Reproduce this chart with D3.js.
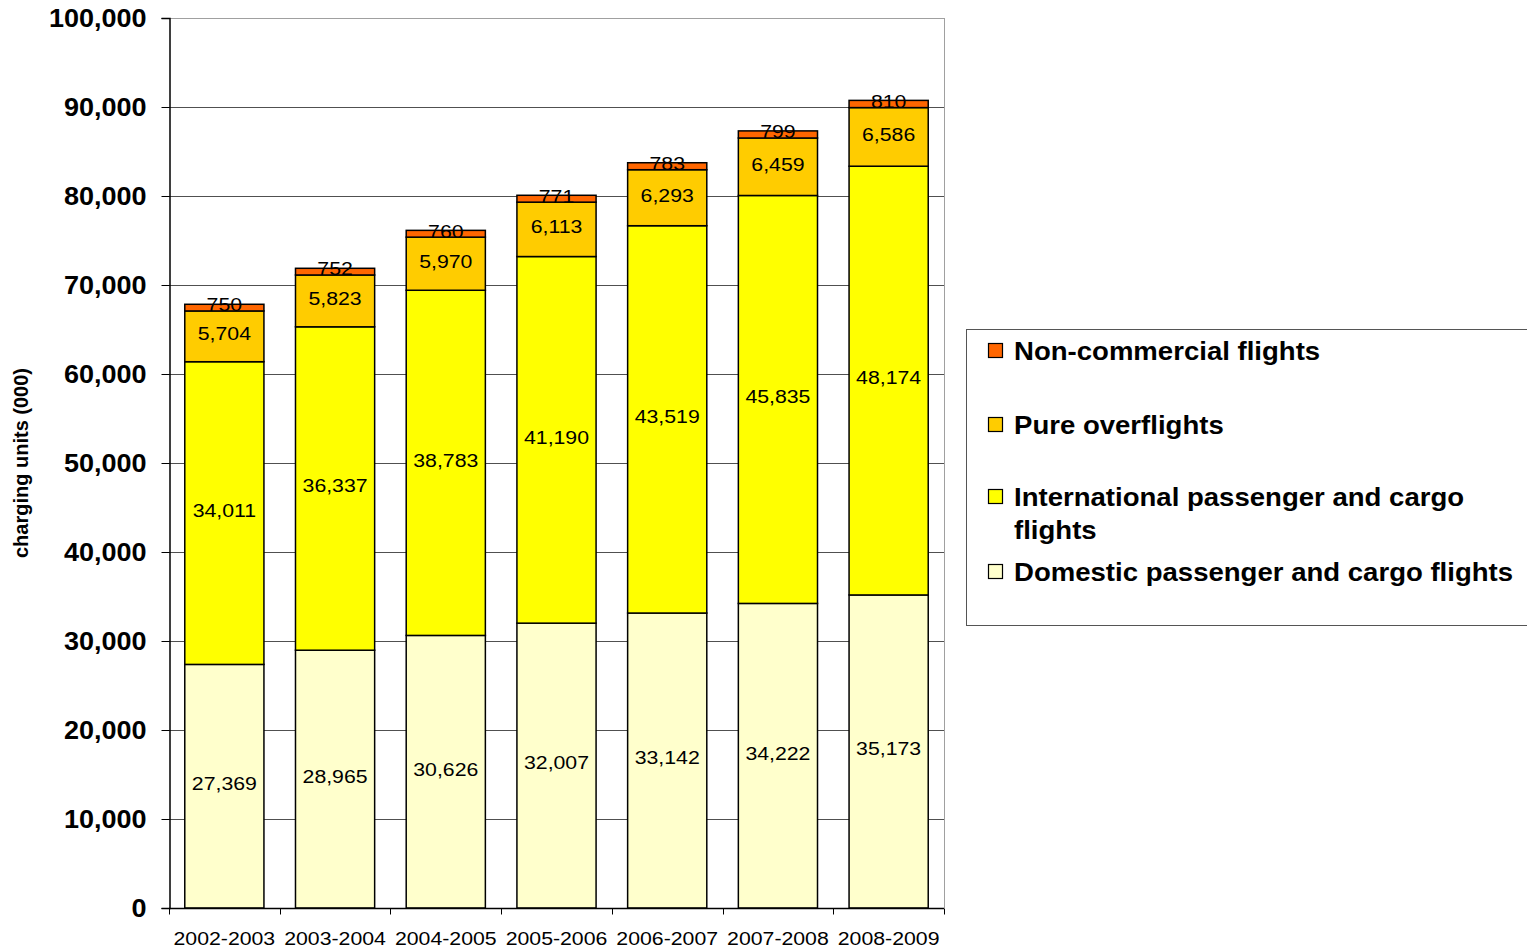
<!DOCTYPE html>
<html>
<head>
<meta charset="utf-8">
<script src="https://cdn.jsdelivr.net/npm/d3@7"></script>
<style>
  html, body { margin: 0; padding: 0; background: #fff; }
  svg { display: block; font-family: "Liberation Sans", Arial, sans-serif; }
</style>
</head>
<body>
<svg id="chart" width="1527" height="948"></svg>
<script>
// Charging units (thousands) by financial year
const years = ["2002-2003", "2003-2004", "2004-2005", "2005-2006", "2006-2007", "2007-2008", "2008-2009"];
const domestic      = [27369, 28965, 30626, 32007, 33142, 34222, 35173];
const international = [34011, 36337, 38783, 41190, 43519, 45835, 48174];
const overflights   = [5704, 5823, 5970, 6113, 6293, 6459, 6586];
const nonCommercial = [750, 752, 760, 771, 783, 799, 810];
const yTicks = [0, 10000, 20000, 30000, 40000, 50000, 60000, 70000, 80000, 90000, 100000];

const seriesNames = ["Domestic passenger and cargo flights", "International passenger and cargo flights", "Pure overflights", "Non-commercial flights"];
const seriesColors = ["#FFFFCC", "#FFFF00", "#FFCC00", "#FF6600"];
const seriesValues = [domestic, international, overflights, nonCommercial];

const svg = d3.select("#chart");
const plot = { left: 169, right: 944, top: 18, bottom: 908 };

const x = d3.scaleBand().domain(years).range([plot.left, plot.right]).paddingInner(0.285).paddingOuter(0.1425);
const y = d3.scaleLinear().domain([0, 100000]).range([plot.bottom, plot.top]);

// gridlines
svg.append("g").selectAll("line").data(yTicks.filter(d => d > 0)).join("line")
  .attr("x1", plot.left).attr("x2", plot.right)
  .attr("y1", d => y(d) + 0.5).attr("y2", d => y(d) + 0.5)
  .attr("stroke", d => d === 100000 ? "#a0a0a0" : "#505050").attr("stroke-width", 1);

// right border of plot area
svg.append("line").attr("x1", plot.right + 0.5).attr("x2", plot.right + 0.5)
  .attr("y1", plot.top).attr("y2", plot.bottom).attr("stroke", "#a0a0a0");

// stacked data
const rows = years.map((yr, i) => {
  const r = { year: yr };
  seriesNames.forEach((n, k) => r[n] = seriesValues[k][i]);
  return r;
});
const stack = d3.stack().keys(seriesNames)(rows);

const layers = svg.append("g").selectAll("g").data(stack).join("g")
  .attr("fill", (d, k) => seriesColors[k]);

layers.selectAll("rect").data(d => d).join("rect")
  .attr("x", d => x(d.data.year))
  .attr("width", x.bandwidth())
  .attr("y", d => y(d[1]))
  .attr("height", d => y(d[0]) - y(d[1]))
  .attr("stroke", "#000").attr("stroke-width", 1.5);

// value labels centred in each segment (slightly wide lettering)
const fmt = d3.format(",");
const labels = svg.append("g").attr("font-size", 19).attr("text-anchor", "middle").attr("fill", "#000");
stack.forEach((layer, k) => {
  layer.forEach(d => {
    const cx = x(d.data.year) + x.bandwidth() / 2;
    const cy = (y(d[0]) + y(d[1])) / 2;
    labels.append("text")
      .attr("transform", `translate(${cx},${cy}) scale(1.12,1)`)
      .attr("dy", "0.2em")
      .text(fmt(d[1] - d[0]));
  });
});

// y axis
const yAxis = svg.append("g").attr("transform", `translate(${plot.left + 0.5},0)`)
  .call(d3.axisLeft(y).tickValues(yTicks).tickFormat(fmt).tickSize(8));
yAxis.select(".domain").attr("stroke", "#000").attr("stroke-width", 1.5);
yAxis.selectAll(".tick line").attr("stroke", "#000");
yAxis.selectAll("text").attr("x", 0).attr("transform", "translate(-23,0) scale(1.08,1)")
  .attr("font-size", 25).attr("font-weight", "bold")
  .attr("font-family", "Liberation Sans, Arial, sans-serif").attr("fill", "#000");

// x axis with boundary ticks between categories
const xg = svg.append("g").attr("transform", `translate(0,${plot.bottom + 0.5})`);
xg.append("line").attr("x1", plot.left).attr("x2", plot.right).attr("stroke", "#000").attr("stroke-width", 1.5);
d3.range(years.length + 1).forEach(i => {
  const xx = Math.round(plot.left + i * (plot.right - plot.left) / years.length) + 0.5;
  xg.append("line").attr("x1", xx).attr("x2", xx).attr("y1", 0).attr("y2", 6).attr("stroke", "#000");
});
xg.selectAll("text.cat").data(years).join("text").attr("class", "cat")
  .attr("transform", d => `translate(${x(d) + x.bandwidth() / 2},36) scale(1.12,1)`)
  .attr("text-anchor", "middle").attr("font-size", 19).attr("fill", "#000").text(d => d);

// y axis title
svg.append("text").attr("transform", "translate(28,463) rotate(-90)")
  .attr("text-anchor", "middle").attr("font-size", 20).attr("font-weight", "bold").text("charging units (000)");

// legend
const lg = svg.append("g");
lg.append("rect").attr("x", 966.5).attr("y", 329.5).attr("width", 600).attr("height", 296)
  .attr("fill", "#fff").attr("stroke", "#555").attr("stroke-width", 1);
const legendItems = [
  { k: 3, lines: ["Non-commercial flights"], y: 351 },
  { k: 2, lines: ["Pure overflights"], y: 425 },
  { k: 1, lines: ["International passenger and cargo", "flights"], y: 497 },
  { k: 0, lines: ["Domestic passenger and cargo flights"], y: 572 }
];
legendItems.forEach(it => {
  lg.append("rect").attr("x", 988.5).attr("y", it.y - 7.5).attr("width", 14).attr("height", 14)
    .attr("fill", seriesColors[it.k]).attr("stroke", "#000").attr("stroke-width", 1.2);
  const t = lg.append("text").attr("transform", `translate(1014,${it.y}) scale(1.06,1)`)
    .attr("font-size", 26).attr("font-weight", "bold").attr("fill", "#000");
  it.lines.forEach((ln, j) => t.append("tspan").attr("x", 0).attr("dy", j === 0 ? "0.35em" : 33).text(ln));
});
</script>
</body>
</html>
